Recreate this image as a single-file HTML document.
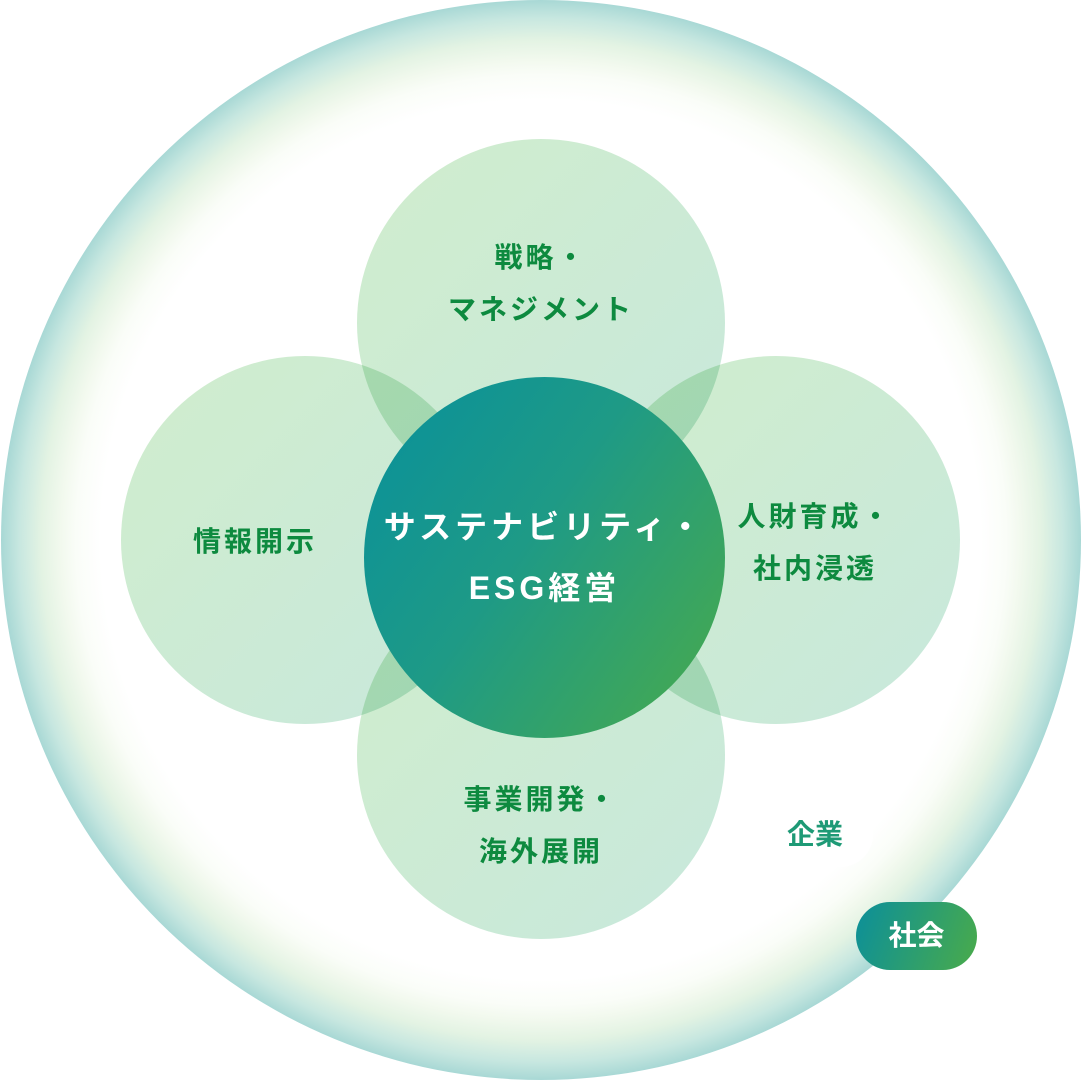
<!DOCTYPE html>
<html><head><meta charset="utf-8"><style>
html,body{margin:0;padding:0;background:#fff;}
body{width:1082px;height:1080px;position:relative;overflow:hidden;font-family:"Liberation Sans","Noto Sans CJK JP",sans-serif;}
.outer{position:absolute;left:1px;top:0;width:1080px;height:1080px;border-radius:50%;
background:radial-gradient(circle at 50% 50%,#ffffff 0,#ffffff 440px,#fafdf8 465px,#f2f9ee 480px,#e3f3e3 500px,#c7e7e0 522px,#a8d8d5 540px);}
.c{position:absolute;width:368px;height:368px;border-radius:50%;mix-blend-mode:multiply;
background:linear-gradient(135deg,rgba(200,234,196,0.85),rgba(190,228,214,0.85));}
.t{position:absolute;color:#0d8a3f;font-weight:bold;font-size:28px;text-align:center;line-height:52px;letter-spacing:3px;}
.center{position:absolute;left:364px;top:377px;width:361px;height:361px;border-radius:50%;
background:linear-gradient(125deg,#08909c 0%,#1e9a86 45%,#4aab4a 100%);}
.pill{position:absolute;border-radius:34px;font-weight:bold;font-size:28px;text-align:center;}
</style></head><body>
<div class="outer"></div>
<div class="c" style="left:357px;top:139px"></div>
<div class="c" style="left:121px;top:356px"></div>
<div class="c" style="left:592px;top:356px"></div>
<div class="c" style="left:357px;top:571px"></div>
<div class="center"></div>
<div class="t" style="left:391px;top:232px;width:300px">戦略・<br>マネジメント</div>
<div class="t" style="left:155px;top:516px;width:200px">情報開示</div>
<div class="t" style="left:715px;top:491px;width:200px">人財育成・<br>社内浸透</div>
<div class="t" style="left:391px;top:774px;width:300px">事業開発・<br>海外展開</div>
<div class="t" style="left:354px;top:497px;width:381px;color:#fff;font-size:32px;line-height:61px;letter-spacing:4px;">サステナビリティ・<br>ESG経営</div>
<div class="pill" style="left:757px;top:802px;width:116px;height:65px;line-height:65px;background:#fff;color:#1e9a76;">企業</div>
<div class="pill" style="left:856px;top:902px;width:121px;height:68px;line-height:68px;color:#fff;background:linear-gradient(110deg,#0b8f9a,#4aab4a);">社会</div>
</body></html>
